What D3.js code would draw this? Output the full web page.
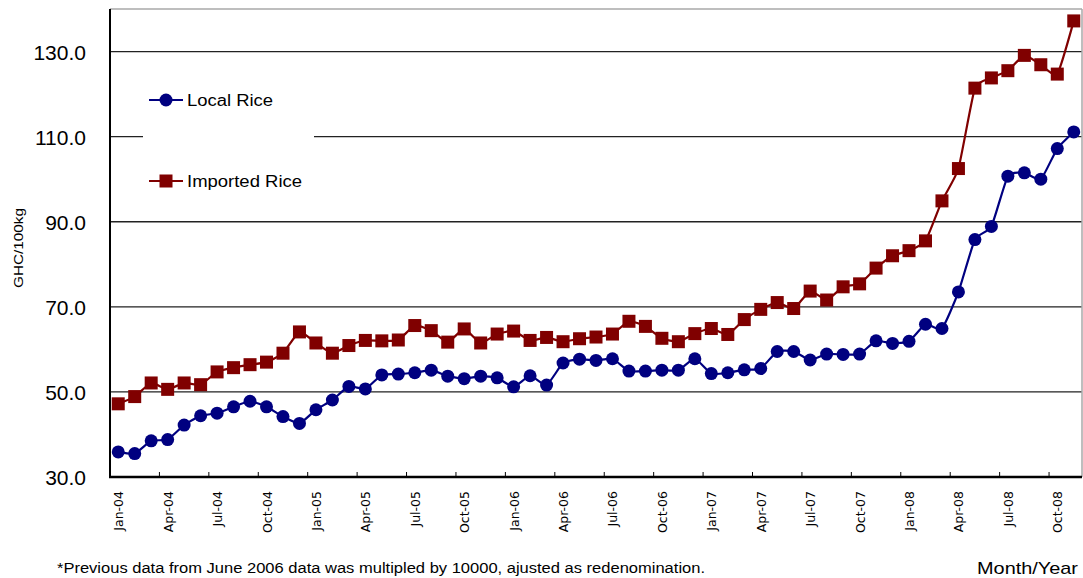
<!DOCTYPE html>
<html>
<head>
<meta charset="utf-8">
<script src="https://cdn.jsdelivr.net/npm/d3@7"></script>
<style>
  html, body { margin: 0; padding: 0; background: #fff; }
  svg { display: block; font-family: "Liberation Sans", Arial, sans-serif; }
</style>
</head>
<body>
<svg id="chart" width="1083" height="578"></svg>
<script>
// ---- data ----
const monthNames = ["Jan","Feb","Mar","Apr","May","Jun","Jul","Aug","Sep","Oct","Nov","Dec"];
const months = [];
for (let y = 4; y <= 8; y++) {
  for (let m = 0; m < 12; m++) {
    if (y === 8 && m > 10) break;
    months.push(monthNames[m] + "-0" + y);
  }
}
const localRice = [35.9, 35.5, 38.5, 38.8, 42.2, 44.4, 45.0, 46.5, 47.8, 46.5, 44.2, 42.6,
  45.8, 48.1, 51.3, 50.7, 54.0, 54.2, 54.5, 55.1, 53.7, 53.1, 53.7, 53.3,
  51.2, 53.8, 51.6, 56.8, 57.7, 57.4, 57.8, 54.9, 54.9, 55.1, 55.1, 57.8,
  54.3, 54.5, 55.2, 55.5, 59.5, 59.5, 57.5, 58.9, 58.8, 58.9, 62.0, 61.4,
  61.9, 65.9, 64.9, 73.5, 85.8, 88.9, 100.7, 101.5, 100.0, 107.2, 111.1];
const importedRice = [47.2, 48.9, 52.1, 50.6, 52.1, 51.7, 54.7, 55.7, 56.4, 57.0, 59.1, 64.1,
  61.5, 59.1, 60.9, 62.1, 62.0, 62.2, 65.6, 64.4, 61.7, 64.8, 61.5, 63.6,
  64.3, 62.1, 62.8, 61.8, 62.5, 62.9, 63.6, 66.6, 65.4, 62.6, 61.8, 63.7,
  64.9, 63.5, 67.0, 69.4, 71.0, 69.6, 73.7, 71.6, 74.7, 75.4, 79.1, 82.0,
  83.2, 85.5, 94.9, 102.5, 121.4, 123.8, 125.5, 129.1, 126.9, 124.7, 137.2];
const yTicks = [30, 50, 70, 90, 110, 130];
const seriesNames = ["Local Rice", "Imported Rice"];
const colors = ["#000080", "#800000"];
const yTitle = "GHC/100kg";
const xTitle = "Month/Year";
const footnote = "*Previous data from June 2006 data was multipled by 10000, ajusted as redenomination.";

// ---- layout ----
const svg = d3.select("#chart");
const L = 110, R = 1082, T = 9, B = 477;

const x = d3.scaleBand().domain(months).range([L, R]).padding(0);
const y = d3.scaleLinear().domain([30, 140]).range([B, T]);
const cx = d => x(d) + x.bandwidth() / 2;

// gridlines
svg.append("g").selectAll("line")
  .data(yTicks.filter(v => v > 30))
  .join("line")
  .attr("x1", L).attr("x2", R)
  .attr("y1", d => y(d)).attr("y2", d => y(d))
  .attr("stroke", "#222").attr("stroke-width", 1.3);

// top & right border
svg.append("line").attr("x1", L).attr("x2", R).attr("y1", T).attr("y2", T)
  .attr("stroke", "#a8a8a8").attr("stroke-width", 1.5);
svg.append("line").attr("x1", R).attr("x2", R).attr("y1", T).attr("y2", B)
  .attr("stroke", "#a8a8a8").attr("stroke-width", 1.5);

// y axis labels
svg.append("g").selectAll("text")
  .data(yTicks)
  .join("text")
  .attr("x", 86).attr("y", d => y(d) + 8)
  .attr("text-anchor", "end")
  .attr("font-size", 21)
  .attr("fill", "#000")
  .text(d => d.toFixed(1));

// y title
svg.append("text")
  .attr("transform", "translate(23,248) rotate(-90)")
  .attr("text-anchor", "middle")
  .attr("font-size", 12)
  .attr("textLength", 80).attr("lengthAdjust", "spacingAndGlyphs")
  .text(yTitle);

// x ticks (inside, every 3 months at band boundaries)
const tickIdx = d3.range(3, months.length, 3);
svg.append("g").selectAll("line")
  .data(tickIdx)
  .join("line")
  .attr("x1", i => x(months[i])).attr("x2", i => x(months[i]))
  .attr("y1", B).attr("y2", B - 5)
  .attr("stroke", "#000").attr("stroke-width", 1);

// x labels
svg.append("g").selectAll("text")
  .data(months.filter((m, i) => i % 3 === 0))
  .join("text")
  .attr("transform", d => `translate(${cx(d) + 5},491) rotate(-90)`)
  .attr("text-anchor", "end")
  .attr("font-family", "'DejaVu Sans', sans-serif")
  .attr("font-size", 12.5)
  .text(d => d);

// axes lines
svg.append("line").attr("x1", L).attr("x2", L).attr("y1", T).attr("y2", B + 1)
  .attr("stroke", "#000").attr("stroke-width", 2);
svg.append("line").attr("x1", L - 1).attr("x2", R).attr("y1", B).attr("y2", B)
  .attr("stroke", "#000").attr("stroke-width", 2.5);

// series
const allSeries = [localRice, importedRice];
const line = d3.line()
  .x((d, i) => cx(months[i]))
  .y(d => y(d))
  .curve(d3.curveCardinal.tension(0.5));

allSeries.forEach((vals, s) => {
  const g = svg.append("g");
  g.append("path").datum(vals)
    .attr("d", line)
    .attr("fill", "none")
    .attr("stroke", colors[s])
    .attr("stroke-width", 2.2);
  if (s === 0) {
    g.selectAll("circle").data(vals).join("circle")
      .attr("cx", (d, i) => cx(months[i]))
      .attr("cy", d => y(d))
      .attr("r", 6.5)
      .attr("fill", colors[s]);
  } else {
    g.selectAll("rect").data(vals).join("rect")
      .attr("x", (d, i) => cx(months[i]) - 6.5)
      .attr("y", d => y(d) - 6.5)
      .attr("width", 13).attr("height", 13)
      .attr("fill", colors[s]);
  }
});

// legend
const lg = svg.append("g");
lg.append("rect").attr("x", 143).attr("y", 72).attr("width", 171).attr("height", 135)
  .attr("fill", "#fff");
const legendY = [100, 181];
seriesNames.forEach((name, s) => {
  const yy = legendY[s];
  lg.append("line").attr("x1", 149).attr("x2", 183).attr("y1", yy).attr("y2", yy)
    .attr("stroke", colors[s]).attr("stroke-width", 2.2);
  if (s === 0) {
    lg.append("circle").attr("cx", 166).attr("cy", yy).attr("r", 6.5).attr("fill", colors[s]);
  } else {
    lg.append("rect").attr("x", 159.5).attr("y", yy - 6.5).attr("width", 13).attr("height", 13)
      .attr("fill", colors[s]);
  }
  lg.append("text").attr("x", 187).attr("y", yy + 6)
    .attr("font-size", 16)
    .attr("textLength", s === 0 ? 86 : 115).attr("lengthAdjust", "spacingAndGlyphs")
    .text(name);
});

// footnote & x title
svg.append("text").attr("x", 57).attr("y", 573)
  .attr("font-size", 14)
  .attr("textLength", 648).attr("lengthAdjust", "spacingAndGlyphs")
  .text(footnote);
svg.append("text").attr("x", 977).attr("y", 574)
  .attr("font-size", 17)
  .attr("textLength", 101).attr("lengthAdjust", "spacingAndGlyphs")
  .text(xTitle);
</script>
</body>
</html>
